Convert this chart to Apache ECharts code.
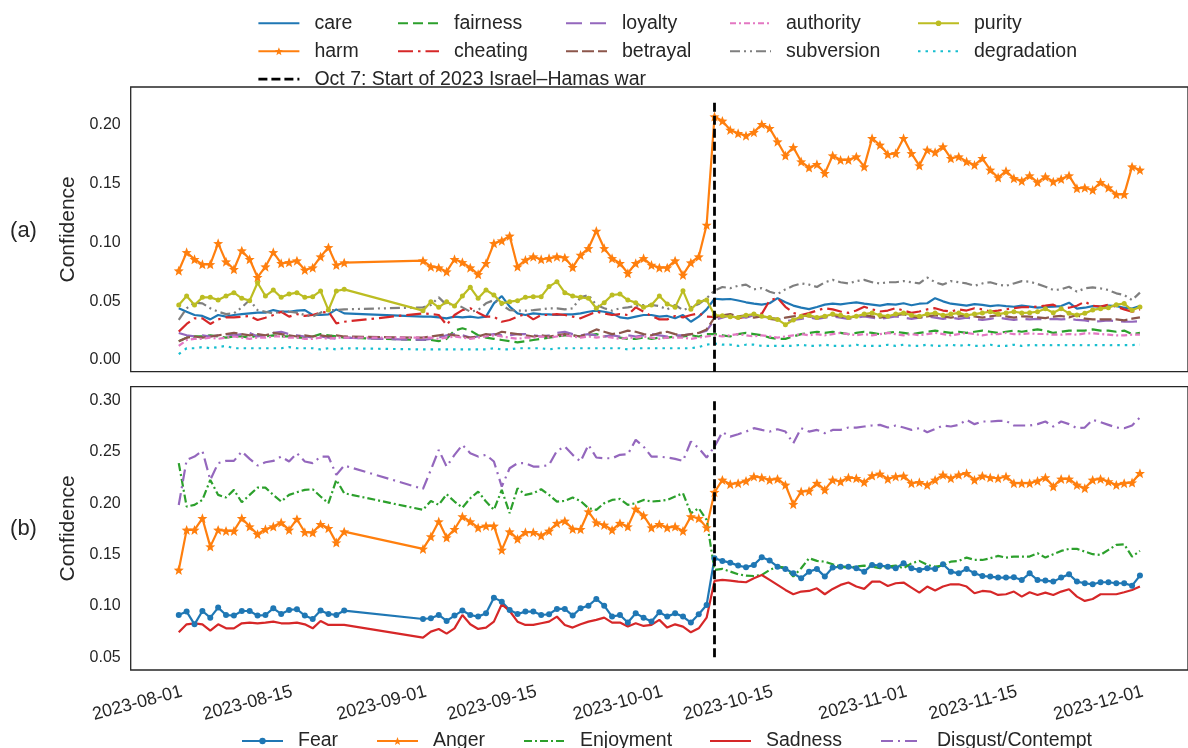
<!DOCTYPE html>
<html>
<head>
<meta charset="utf-8">
<script src="https://cdn.jsdelivr.net/npm/echarts@6/dist/echarts.min.js"></script>
<style>
  html, body { margin: 0; padding: 0; background: #fff; }
  #chart { width: 1188px; height: 748px; }
</style>
</head>
<body>
<div id="chart"></div>
<script>
// daily observations in two runs (gap in late August)
const dateRuns = [['2023-07-31', 22], ['2023-08-31', 92]];
const warDate = '2023-10-07';
const warName = 'Oct 7: Start of 2023 Israel\u2013Hamas war';
const warSpanTop = [-0.0099, 0.22];
const warSpanBottom = [0.05, 0.30];

const xTickLabels = ['2023-08-01', '2023-08-15', '2023-09-01', '2023-09-15', '2023-10-01',
  '2023-10-15', '2023-11-01', '2023-11-15', '2023-12-01'];
const yTicksTop = [0, 0.05, 0.10, 0.15, 0.20];
const yTicksBottom = [0.05, 0.10, 0.15, 0.20, 0.25, 0.30];

// (a) moral foundations
const care = [
  0.0439,0.0410,0.0382,0.0374,0.0345,0.0382,0.0368,0.0382,0.0390,0.0396,0.0402,0.0402,0.0424,0.0410,0.0410,0.0419,0.0424,0.0382,0.0382,0.0388,0.0430,0.0396,
  0.0368,0.0368,0.0362,0.0354,0.0368,0.0362,0.0368,0.0359,0.0368,0.0481,0.0543,0.0453,0.0396,0.0382,0.0396,0.0390,0.0388,0.0382,0.0388,0.0388,0.0396,0.0410,0.0419,0.0410,0.0396,0.0362,0.0354,0.0368,0.0382,0.0382,0.0368,0.0374,0.0354,0.0382,0.0325,0.0368,0.0430,
  0.0520,0.0515,0.0518,0.0505,0.0490,0.0478,0.0470,0.0482,0.0525,0.0490,
  0.0462,0.0445,0.0432,0.0450,0.0470,0.0478,0.0472,0.0482,0.0490,0.0478,
  0.0470,0.0462,0.0475,0.0470,0.0482,0.0465,0.0478,0.0482,0.0525,0.0498,
  0.0478,0.0470,0.0462,0.0475,0.0468,0.0458,0.0465,0.0458,0.0452,0.0462,
  0.0453,0.0444,0.0450,0.0453,0.0458,0.0487,0.0436,0.0444,0.0458,0.0453,
  0.0461,0.0458,0.0444,0.0436,0.0458];
const harm = [
  0.0758,0.0914,0.0855,0.0812,0.0812,0.0990,0.0835,0.0770,0.0928,0.0855,0.0702,0.0792,0.0914,0.0821,0.0829,0.0843,0.0764,0.0784,0.0877,0.0956,0.0806,0.0826,
  0.0843,0.0792,0.0784,0.0750,0.0855,0.0829,0.0784,0.0727,0.0821,0.0990,0.1013,0.1053,0.0792,0.0849,0.0877,0.0855,0.0863,0.0877,0.0869,0.0787,0.0891,0.0948,0.1095,0.0948,0.0863,0.0821,0.0736,0.0821,0.0863,0.0806,0.0784,0.0784,0.0843,0.0722,0.0826,0.0877,0.1146,
  0.2066,0.2029,0.1952,0.1924,0.1904,0.1933,0.2001,0.1967,0.1853,0.1735,
  0.1805,0.1684,0.1633,0.1661,0.1585,0.1735,0.1698,0.1698,0.1726,0.1641,
  0.1882,0.1825,0.1746,0.1754,0.1882,0.1754,0.1650,0.1783,0.1763,0.1811,
  0.1712,0.1726,0.1684,0.1655,0.1712,0.1613,0.1548,0.1604,0.1542,0.1520,
  0.1565,0.1508,0.1556,0.1514,0.1536,0.1565,0.1457,0.1463,0.1443,0.1508,
  0.1463,0.1406,0.1406,0.1641,0.1613];
const fairness = [
  0.016,0.019,0.020,0.020,0.021,0.020,0.019,0.020,0.020,0.019,0.021,0.020,0.021,0.020,0.020,0.019,0.019,0.020,0.022,0.021,0.020,0.019,
  0.017,0.017,0.016,0.018,0.025,0.027,0.025,0.021,0.019,0.018,0.017,0.016,0.015,0.016,0.017,0.018,0.019,0.020,0.021,0.021,0.020,0.021,0.022,0.020,0.021,0.019,0.018,0.018,0.019,0.018,0.019,0.019,0.020,0.020,0.021,0.020,0.022,
  0.022,0.021,0.020,0.022,0.023,0.022,0.021,0.019,0.018,0.018,
  0.020,0.022,0.023,0.024,0.023,0.024,0.023,0.022,0.023,0.024,
  0.023,0.022,0.023,0.024,0.023,0.022,0.023,0.024,0.025,0.024,
  0.023,0.024,0.023,0.024,0.025,0.024,0.023,0.024,0.025,0.024,
  0.025,0.026,0.025,0.023,0.024,0.025,0.025,0.025,0.026,0.025,
  0.025,0.024,0.025,0.022,0.023];
const cheating = [
  0.0241,0.0306,0.0354,0.0354,0.0306,0.0345,0.0362,0.0362,0.0368,0.0374,0.0340,0.0359,0.0382,0.0410,0.0368,0.0390,0.0374,0.0382,0.0402,0.0410,0.0311,0.0325,
  0.0396,0.0390,0.0382,0.0297,0.0382,0.0424,0.0439,0.0402,0.0368,0.0368,0.0325,0.0340,0.0368,0.0390,0.0345,0.0382,0.0382,0.0390,0.0382,0.0368,0.0354,0.0382,0.0410,0.0396,0.0382,0.0390,0.0382,0.0447,0.0410,0.0374,0.0345,0.0345,0.0374,0.0362,0.0382,0.0396,0.0368,
  0.0365,0.0372,0.0380,0.0352,0.0370,0.0398,0.0392,0.0505,0.0528,0.0452,
  0.0400,0.0382,0.0398,0.0420,0.0440,0.0430,0.0412,0.0400,0.0420,0.0452,
  0.0430,0.0412,0.0420,0.0440,0.0420,0.0400,0.0412,0.0430,0.0440,0.0420,
  0.0412,0.0430,0.0420,0.0440,0.0430,0.0412,0.0420,0.0430,0.0440,0.0448,
  0.0450,0.0453,0.0461,0.0470,0.0436,0.0444,0.0461,0.0495,0.0461,0.0453,
  0.0470,0.0453,0.0430,0.0410,0.0430];
const loyalty = [
  0.023,0.021,0.020,0.021,0.020,0.021,0.022,0.021,0.022,0.023,0.020,0.021,0.023,0.024,0.022,0.021,0.020,0.019,0.020,0.019,0.018,0.019,
  0.017,0.018,0.019,0.021,0.022,0.021,0.019,0.020,0.021,0.022,0.021,0.021,0.022,0.022,0.021,0.020,0.021,0.023,0.024,0.022,0.021,0.022,0.021,0.020,0.021,0.020,0.021,0.020,0.021,0.022,0.021,0.020,0.021,0.021,0.022,0.023,0.025,
  0.034,0.036,0.038,0.037,0.036,0.038,0.037,0.036,0.035,0.033,
  0.034,0.035,0.036,0.035,0.036,0.037,0.036,0.035,0.036,0.037,
  0.036,0.035,0.036,0.037,0.036,0.035,0.036,0.037,0.036,0.035,
  0.036,0.035,0.036,0.035,0.034,0.035,0.036,0.035,0.034,0.035,
  0.0345,0.035,0.0345,0.035,0.0345,0.035,0.034,0.0337,0.0325,0.033,
  0.0337,0.033,0.0325,0.0325,0.0331];
const betrayal = [
  0.016,0.019,0.020,0.019,0.020,0.021,0.022,0.023,0.022,0.021,0.022,0.021,0.023,0.022,0.021,0.020,0.021,0.020,0.021,0.020,0.021,0.020,
  0.019,0.020,0.021,0.022,0.021,0.020,0.019,0.020,0.022,0.021,0.024,0.023,0.022,0.021,0.020,0.021,0.020,0.021,0.022,0.021,0.020,0.023,0.026,0.024,0.022,0.023,0.025,0.024,0.022,0.021,0.023,0.024,0.022,0.021,0.022,0.023,0.026,
  0.036,0.038,0.039,0.037,0.038,0.036,0.037,0.035,0.034,0.036,
  0.037,0.038,0.037,0.036,0.037,0.038,0.037,0.036,0.037,0.038,
  0.037,0.036,0.037,0.038,0.039,0.037,0.036,0.037,0.038,0.037,
  0.036,0.037,0.038,0.037,0.036,0.037,0.038,0.037,0.036,0.037,
  0.0368,0.0362,0.0356,0.0368,0.0374,0.0362,0.0382,0.0351,0.0345,0.0345,
  0.0345,0.0345,0.0337,0.0351,0.0362];
const authority = [
  0.012,0.017,0.018,0.018,0.019,0.018,0.019,0.020,0.019,0.018,0.019,0.019,0.020,0.020,0.019,0.019,0.018,0.018,0.019,0.018,0.019,0.019,
  0.019,0.019,0.018,0.019,0.020,0.019,0.018,0.019,0.020,0.021,0.020,0.019,0.018,0.019,0.019,0.020,0.019,0.020,0.021,0.020,0.019,0.020,0.019,0.020,0.019,0.018,0.019,0.019,0.020,0.019,0.018,0.019,0.019,0.019,0.018,0.019,0.020,
  0.021,0.020,0.021,0.022,0.021,0.020,0.021,0.020,0.019,0.020,
  0.021,0.022,0.021,0.022,0.021,0.022,0.023,0.022,0.021,0.022,
  0.021,0.022,0.023,0.022,0.021,0.022,0.021,0.022,0.023,0.022,
  0.021,0.022,0.023,0.022,0.021,0.022,0.022,0.023,0.022,0.022,
  0.0226,0.0221,0.0221,0.0215,0.0215,0.0221,0.0215,0.0226,0.0226,0.0221,
  0.0215,0.0209,0.0209,0.0215,0.0215];
const subversion = [
  0.0340,0.0439,0.0487,0.0481,0.0439,0.0410,0.0390,0.0396,0.0447,0.0509,0.0424,0.0410,0.0396,0.0410,0.0410,0.0402,0.0382,0.0368,0.0402,0.0424,0.0424,0.0430,
  0.0447,0.0467,0.0532,0.0467,0.0481,0.0447,0.0410,0.0424,0.0481,0.0509,0.0467,0.0424,0.0419,0.0419,0.0424,0.0430,0.0439,0.0439,0.0430,0.0439,0.0532,0.0552,0.0467,0.0439,0.0419,0.0439,0.0447,0.0458,0.0467,0.0467,0.0458,0.0430,0.0467,0.0424,0.0447,0.0475,0.0524,
  0.0590,0.0620,0.0610,0.0630,0.0640,0.0600,0.0610,0.0580,0.0560,0.0600,
  0.0630,0.0650,0.0640,0.0620,0.0660,0.0680,0.0660,0.0650,0.0670,0.0680,
  0.0660,0.0650,0.0660,0.0660,0.0670,0.0660,0.0650,0.0700,0.0660,0.0640,
  0.0670,0.0660,0.0650,0.0630,0.0650,0.0660,0.0640,0.0630,0.0650,0.0670,
  0.0665,0.0645,0.0622,0.0594,0.0600,0.0622,0.0580,0.0608,0.0617,0.0608,
  0.0594,0.0566,0.0552,0.0509,0.0572];
const purity = [
  0.0467,0.0543,0.0467,0.0532,0.0532,0.0509,0.0543,0.0572,0.0524,0.0504,0.0656,0.0543,0.0594,0.0532,0.0560,0.0572,0.0532,0.0538,0.0586,0.0424,0.0586,0.0600,
  0.0419,0.0495,0.0447,0.0495,0.0458,0.0543,0.0617,0.0524,0.0594,0.0552,0.0481,0.0495,0.0504,0.0532,0.0538,0.0538,0.0623,0.0665,0.0572,0.0543,0.0532,0.0524,0.0439,0.0487,0.0552,0.0560,0.0509,0.0487,0.0447,0.0467,0.0543,0.0475,0.0447,0.0589,0.0430,0.0495,0.0509,
  0.0382,0.0375,0.0368,0.0362,0.0380,0.0390,0.0372,0.0360,0.0345,0.0300,
  0.0340,0.0370,0.0380,0.0362,0.0372,0.0390,0.0380,0.0362,0.0372,0.0390,
  0.0400,0.0380,0.0372,0.0390,0.0400,0.0380,0.0372,0.0390,0.0400,0.0380,
  0.0390,0.0400,0.0380,0.0390,0.0400,0.0410,0.0390,0.0400,0.0410,0.0400,
  0.0402,0.0410,0.0436,0.0402,0.0436,0.0396,0.0382,0.0396,0.0425,0.0436,
  0.0444,0.0470,0.0479,0.0422,0.0451];
const degradation = [
  0.005,0.010,0.010,0.011,0.010,0.011,0.012,0.010,0.010,0.010,0.010,0.010,0.010,0.010,0.011,0.010,0.010,0.010,0.009,0.010,0.009,0.010,
  0.009,0.009,0.009,0.009,0.009,0.009,0.009,0.009,0.009,0.010,0.009,0.009,0.010,0.010,0.010,0.010,0.009,0.010,0.010,0.010,0.010,0.010,0.010,0.010,0.010,0.010,0.009,0.010,0.010,0.010,0.010,0.010,0.010,0.010,0.010,0.011,0.013,
  0.014,0.013,0.013,0.012,0.013,0.013,0.012,0.012,0.012,0.012,
  0.012,0.013,0.012,0.012,0.013,0.012,0.012,0.012,0.013,0.012,
  0.012,0.012,0.013,0.012,0.013,0.012,0.012,0.013,0.012,0.012,
  0.013,0.012,0.013,0.012,0.012,0.013,0.012,0.012,0.013,0.012,
  0.0127,0.0125,0.0127,0.0125,0.0127,0.0125,0.0127,0.0125,0.0127,0.0127,
  0.0125,0.0127,0.0127,0.0127,0.0130];

// (b) emotions
const fear = [
  0.0912,0.0945,0.0821,0.0951,0.0886,0.0984,0.0912,0.0906,0.0951,0.0951,0.0906,0.0912,0.0977,0.0922,0.0961,0.0968,0.0906,0.0873,0.0955,0.0922,0.0912,0.0955,
  0.0873,0.0880,0.0912,0.0854,0.0906,0.0955,0.0912,0.0896,0.0929,0.1081,0.1042,0.0961,0.0922,0.0945,0.0945,0.0912,0.0919,0.0971,0.0971,0.0906,0.0977,0.1003,0.1068,0.1003,0.0896,0.0912,0.0838,0.0929,0.0886,0.0848,0.0938,0.0896,0.0929,0.0896,0.0838,0.0919,0.1010,
  0.1465,0.1439,0.1422,0.1393,0.1377,0.1400,0.1474,0.1442,0.1383,0.1361,
  0.1318,0.1270,0.1334,0.1361,0.1286,0.1374,0.1383,0.1383,0.1367,0.1334,
  0.1400,0.1393,0.1383,0.1367,0.1416,0.1367,0.1351,0.1367,0.1361,0.1406,
  0.1334,0.1318,0.1361,0.1318,0.1292,0.1286,0.1276,0.1276,0.1279,0.1253,
  0.1318,0.1253,0.1247,0.1237,0.1276,0.1309,0.1237,0.1221,0.1211,0.1231,
  0.1231,0.1221,0.1221,0.1198,0.1296];
const anger = [
  0.1351,0.1741,0.1741,0.1854,0.1578,0.1741,0.1731,0.1731,0.1854,0.1773,0.1699,0.1747,0.1773,0.1812,0.1741,0.1845,0.1718,0.1715,0.1796,0.1757,0.1617,0.1724,
  0.1556,0.1676,0.1822,0.1666,0.1747,0.1871,0.1822,0.1763,0.1780,0.1780,0.1546,0.1724,0.1653,0.1718,0.1718,0.1686,0.1731,0.1806,0.1828,0.1750,0.1747,0.1919,0.1812,0.1789,0.1741,0.1806,0.1773,0.1945,0.1880,0.1763,0.1796,0.1763,0.1773,0.1731,0.1871,0.1854,0.1763,
  0.2108,0.2228,0.2186,0.2196,0.2218,0.2261,0.2251,0.2228,0.2238,0.2179,
  0.1991,0.2114,0.2121,0.2196,0.2131,0.2228,0.2212,0.2251,0.2244,0.2205,
  0.2270,0.2287,0.2238,0.2261,0.2267,0.2196,0.2205,0.2179,0.2228,0.2277,
  0.2244,0.2277,0.2293,0.2228,0.2267,0.2251,0.2244,0.2261,0.2196,0.2196,
  0.2196,0.2218,0.2251,0.2163,0.2238,0.2238,0.2179,0.2147,0.2228,0.2238,
  0.2212,0.2179,0.2196,0.2202,0.2293];
const enjoyment = [
  0.2391,0.1968,0.1985,0.2033,0.2228,0.2082,0.2056,0.2131,0.2010,0.2082,0.2153,0.2153,0.2082,0.2017,0.2082,0.2108,0.2131,0.2137,0.2066,0.2001,0.2228,0.2098,
  0.1936,0.2023,0.1985,0.2088,0.2017,0.1958,0.2049,0.2114,0.2017,0.1936,0.2131,0.1903,0.2147,0.2082,0.2098,0.2137,0.2082,0.2017,0.2023,0.2056,0.2023,0.1952,0.1936,0.2001,0.2033,0.2043,0.1985,0.2001,0.2033,0.2017,0.2023,0.2033,0.2066,0.2098,0.1903,0.1952,0.1838,
  0.1351,0.1361,0.1335,0.1309,0.1296,0.1292,0.1302,0.1351,0.1383,0.1374,
  0.1286,0.1367,0.1465,0.1439,0.1432,0.1406,0.1383,0.1374,0.1383,0.1393,
  0.1383,0.1367,0.1383,0.1393,0.1367,0.1416,0.1439,0.1400,0.1383,0.1393,
  0.1432,0.1439,0.1471,0.1448,0.1448,0.1465,0.1488,0.1471,0.1481,0.1481,
  0.1481,0.1513,0.1471,0.1504,0.1536,0.1556,0.1556,0.1530,0.1504,0.1497,
  0.1546,0.1595,0.1601,0.1481,0.1536];
const sadness = [
  0.0743,0.0821,0.0831,0.0821,0.0760,0.0821,0.0782,0.0782,0.0831,0.0838,0.0831,0.0838,0.0847,0.0831,0.0831,0.0838,0.0821,0.0782,0.0854,0.0815,0.0815,0.0815,
  0.0691,0.0750,0.0776,0.0730,0.0782,0.0912,0.0821,0.0776,0.0789,0.0847,0.1016,0.0951,0.0847,0.0815,0.0815,0.0831,0.0847,0.0896,0.0815,0.0789,0.0821,0.0847,0.0864,0.0886,0.0838,0.0838,0.0799,0.0831,0.0805,0.0815,0.0864,0.0789,0.0821,0.0799,0.0743,0.0782,0.0886,
  0.1244,0.1254,0.1247,0.1237,0.1231,0.1270,0.1302,0.1254,0.1205,0.1156,
  0.1114,0.1140,0.1146,0.1172,0.1114,0.1166,0.1205,0.1228,0.1189,0.1166,
  0.1237,0.1237,0.1195,0.1221,0.1228,0.1179,0.1130,0.1189,0.1150,0.1189,
  0.1211,0.1211,0.1189,0.1124,0.1146,0.1140,0.1107,0.1114,0.1140,0.1091,
  0.1133,0.1107,0.1130,0.1107,0.1140,0.1163,0.1091,0.1049,0.1068,0.1114,
  0.1114,0.1114,0.1133,0.1156,0.1189];
const disgust = [
  0.1984,0.2423,0.2455,0.2511,0.2228,0.2391,0.2413,0.2413,0.2504,0.2433,0.2368,0.2400,0.2413,0.2455,0.2407,0.2488,0.2407,0.2391,0.2455,0.2455,0.2277,0.2368,
  0.2140,0.2326,0.2520,0.2358,0.2472,0.2569,0.2488,0.2455,0.2472,0.2407,0.2163,0.2342,0.2391,0.2391,0.2358,0.2358,0.2374,0.2511,0.2553,0.2472,0.2407,0.2569,0.2446,0.2439,0.2439,0.2472,0.2478,0.2618,0.2553,0.2455,0.2455,0.2446,0.2433,0.2413,0.2602,0.2537,0.2446,
  0.2553,0.2693,0.2650,0.2673,0.2699,0.2732,0.2715,0.2699,0.2722,0.2699,
  0.2585,0.2732,0.2699,0.2715,0.2683,0.2715,0.2715,0.2738,0.2738,0.2748,
  0.2758,0.2764,0.2738,0.2758,0.2738,0.2715,0.2732,0.2693,0.2725,0.2758,
  0.2748,0.2764,0.2813,0.2771,0.2797,0.2797,0.2803,0.2803,0.2758,0.2758,
  0.2758,0.2771,0.2797,0.2748,0.2797,0.2771,0.2732,0.2738,0.2813,0.2790,
  0.2764,0.2738,0.2732,0.2758,0.2836];

const FONT = "'Liberation Sans', Arial, sans-serif";
const INK = '#262626';
const DAY = 86400000;
const STAR = 'path://M0,-10 L2.6,-3.4 L9.5,-3.1 L4.1,1.3 L5.9,8.1 L0,4.2 L-5.9,8.1 L-4.1,1.3 L-9.5,-3.1 L-2.6,-3.4 Z';

function toTime(s) {
  const p = s.split('-').map(Number);
  return Date.UTC(p[0], p[1] - 1, p[2]);
}
function pad(n) { return n < 10 ? '0' + n : '' + n; }
function fmtDate(v) {
  const d = new Date(v);
  return d.getUTCFullYear() + '-' + pad(d.getUTCMonth() + 1) + '-' + pad(d.getUTCDate());
}

const dates = [];
dateRuns.forEach(([start, n]) => {
  const t0 = toTime(start);
  for (let i = 0; i < n; i++) dates.push(t0 + i * DAY);
});
const xMin = dates[0] - 6.1 * DAY;
const xMax = dates[dates.length - 1] + 6.1 * DAY;
const warT = toTime(warDate);

function series(name, values, color, dash, gi, extra) {
  return Object.assign({
    name: name,
    type: 'line',
    xAxisIndex: gi,
    yAxisIndex: gi,
    data: dates.map((t, i) => [t, values[i]]),
    symbol: 'none',
    lineStyle: { color: color, width: 2.2, type: dash },
    itemStyle: { color: color },
    emphasis: { disabled: true },
    z: 3
  }, extra || {});
}
const star = { symbol: STAR, symbolSize: 10, showSymbol: true, showAllSymbol: true };
const dot = size => ({ symbol: 'circle', symbolSize: size, showSymbol: true, showAllSymbol: true });

function warSeries(name, span, gi) {
  return {
    name: name, type: 'line', xAxisIndex: gi, yAxisIndex: gi,
    data: [[warT, span[0]], [warT, span[1]]],
    symbol: 'none',
    lineStyle: { color: '#000', width: 2.8, type: [9, 4] },
    itemStyle: { color: '#000' },
    emphasis: { disabled: true },
    z: 6
  };
}

const markerNames = ['harm', 'purity', 'Fear', 'Anger'];
function legend(names, left, top, itemHeight, gap) {
  return {
    orient: 'vertical', left: left, top: top, padding: 0,
    itemGap: gap === undefined ? 8 : gap, itemWidth: 41, itemHeight: itemHeight,
    selectedMode: false,
    data: names.map(n => {
      const item = { name: n };
      if (markerNames.indexOf(n) < 0) item.itemStyle = { opacity: 0 };
      if (n === warName) item.lineStyle = { width: 2.8 };
      return item;
    }),
    textStyle: { fontSize: 19.5, lineHeight: 19, color: INK, fontFamily: FONT, padding: [0, 0, 0, 10] }
  };
}

function yAxis(gi, min, max, ticks) {
  return {
    type: 'value', gridIndex: gi, min: min, max: max,
    axisLine: { show: false }, axisTick: { show: false }, splitLine: { show: false },
    axisLabel: {
      customValues: ticks, formatter: v => v.toFixed(2),
      fontSize: 16, color: INK, fontFamily: FONT, margin: 10
    },
    name: 'Confidence', nameLocation: 'middle', nameGap: 47,
    nameTextStyle: { fontSize: 21, color: INK, fontFamily: FONT }
  };
}

const chart = echarts.init(document.getElementById('chart'), null, { renderer: 'canvas' });
chart.setOption({
  animation: false,
  backgroundColor: '#fff',
  grid: [
    { left: 130.7, top: 87, width: 1071, height: 284.7, show: true, borderColor: INK, borderWidth: 1.3, backgroundColor: 'transparent' },
    { left: 130.7, top: 386.7, width: 1071, height: 283.3, show: true, borderColor: INK, borderWidth: 1.3, backgroundColor: 'transparent' }
  ],
  // dates as numeric timestamps on a value axis so tick positions can be listed exactly
  xAxis: [0, 1].map(gi => ({
    type: 'value', gridIndex: gi, min: xMin, max: xMax,
    axisLine: { show: false }, axisTick: { show: false }, splitLine: { show: false },
    axisLabel: gi === 0 ? { show: false } : {
      customValues: xTickLabels.map(toTime),
      formatter: v => fmtDate(v),
      rotate: 15, fontSize: 18, color: INK, fontFamily: FONT, margin: 20, padding: [0, 5, 0, 0]
    }
  })),
  yAxis: [
    yAxis(0, -0.0099, 0.2317, yTicksTop),
    yAxis(1, 0.0376, 0.3136, yTicksBottom)
  ],
  legend: [
    legend(['care', 'harm', warName], 257, 13.2, 10),
    legend(['fairness', 'cheating'], 397, 13.2, 10),
    legend(['loyalty', 'betrayal'], 565, 13.2, 10),
    legend(['authority', 'subversion'], 729, 13.2, 10),
    legend(['purity', 'degradation'], 917, 13.2, 7),
    legend(['Fear'], 241, 731, 8),
    legend(['Anger'], 376, 731, 10),
    legend(['Enjoyment'], 523, 731, 10),
    legend(['Sadness'], 709, 731, 10),
    legend(['Disgust/Contempt'], 880, 731, 10)
  ],
  graphic: [
    { type: 'text', x: 23.5, y: 231, style: { text: '(a)', fontSize: 22, fontFamily: FONT, fill: INK, align: 'center', verticalAlign: 'middle' } },
    { type: 'text', x: 23.5, y: 529, style: { text: '(b)', fontSize: 22, fontFamily: FONT, fill: INK, align: 'center', verticalAlign: 'middle' } }
  ],
  series: [
    series('care', care, '#1f77b4', 'solid', 0),
    series('harm', harm, '#ff7f0e', 'solid', 0, star),
    series('fairness', fairness, '#2ca02c', [10, 5], 0),
    series('cheating', cheating, '#d62728', [15, 5, 2.5, 5], 0),
    series('loyalty', loyalty, '#9467bd', [16, 8], 0),
    series('betrayal', betrayal, '#8c564b', [12, 4], 0),
    series('authority', authority, '#e377c2', [6, 3, 2, 3], 0),
    series('subversion', subversion, '#7f7f7f', [10, 4, 2, 4, 2, 4], 0),
    series('purity', purity, '#bcbd22', 'solid', 0, dot(5)),
    series('degradation', degradation, '#17becf', [2.5, 5], 0),
    warSeries(warName, warSpanTop, 0),
    series('Fear', fear, '#1f77b4', 'solid', 1, dot(6)),
    series('Anger', anger, '#ff7f0e', 'solid', 1, star),
    series('Enjoyment', enjoyment, '#2ca02c', [8, 3, 2, 3], 1),
    series('Sadness', sadness, '#d62728', 'solid', 1),
    series('Disgust/Contempt', disgust, '#9467bd', [12, 5, 2, 5], 1),
    warSeries('war (b)', warSpanBottom, 1)
  ]
});
</script>
</body>
</html>
